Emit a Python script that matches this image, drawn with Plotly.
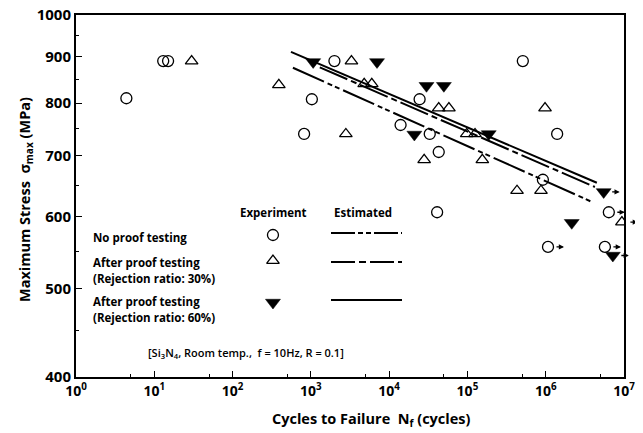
import math
import plotly.graph_objects as go

# ---- Data ----
# No proof testing (open circles)
np_N = [4.4, 13, 15, 820, 1030, 2000, 1.4e4, 2.45e4, 3.3e4, 4.3e4, 4.1e4, 5.1e5, 9.2e5, 1.4e6]
np_S = [810, 890, 890, 740, 808, 890, 757, 808, 740, 707, 607, 890, 659, 740]
# No proof testing, run-outs
np_run_N = [1.07e6, 5.7e6, 6.4e6]
np_run_S = [556, 556, 607]

# After proof testing, rejection 30% (open triangles)
p30_N = [30, 390, 2800, 3300, 4800, 6000, 2.8e4, 4.3e4, 5.8e4, 9.8e4, 1.25e5, 1.55e5, 4.3e5, 8.7e5, 9.8e5]
p30_S = [890, 838, 740, 890, 840, 840, 693, 790, 790, 740, 740, 693, 641, 641, 790]
p30_run_N = [9.4e6]
p30_run_S = [592]

# After proof testing, rejection 60% (filled down triangles)
p60_N = [1070, 7000, 2.1e4, 3.0e4, 5.0e4, 1.87e5, 2.15e6]
p60_S = [888, 888, 739, 836, 836, 740, 591]
p60_run_N = [5.5e6, 7.2e6]
p60_run_S = [639, 544]

# Estimated S-N lines (end points)
est_np_N = [590, 3.9e6]
est_np_S = [875, 623]
est_30_N = [1300, 4.25e6]
est_30_S = [876, 647]
est_60_N = [557, 4.5e6]
est_60_S = [911, 654]

# Legend marker positions (data space)
leg_N = [328, 328, 328]
leg_S = [573, 537, 483]

x_ticks = [1, 10, 100, 1e3, 1e4, 1e5, 1e6, 1e7]
x_ticktext = ["10<sup>0</sup>", "10<sup>1</sup>", "10<sup>2</sup>", "10<sup>3</sup>",
              "10<sup>4</sup>", "10<sup>5</sup>", "10<sup>6</sup>", "10<sup>7</sup>"]
x_minor = [5, 50, 500, 5e3, 5e4, 5e5, 5e6]
y_ticks = [400, 500, 600, 700, 800, 900, 1000]
y_minor = [450, 550, 650, 750, 850, 950]

FONT = "Open Sans"
BLK = "black"

fig = go.Figure()

circle = dict(symbol="circle-open", size=11, color=BLK, line=dict(width=1.3, color=BLK))
tri = dict(symbol="triangle-up-open", size=11, color=BLK, line=dict(width=1.3, color=BLK))
ftri = dict(symbol="triangle-down", size=13, color=BLK, line=dict(width=0.5, color=BLK))

# estimated lines
fig.add_trace(go.Scatter(x=est_np_N, y=est_np_S, mode="lines",
                         line=dict(color=BLK, width=2, dash="34px,4px,5px,3px,5px,4px")))
fig.add_trace(go.Scatter(x=est_30_N, y=est_30_S, mode="lines",
                         line=dict(color=BLK, width=2, dash="30px,4px,6px,4px")))
fig.add_trace(go.Scatter(x=est_60_N, y=est_60_S, mode="lines",
                         line=dict(color=BLK, width=2)))

# experimental points
fig.add_trace(go.Scatter(x=np_N + np_run_N, y=np_S + np_run_S, mode="markers", marker=circle))
fig.add_trace(go.Scatter(x=p30_N + p30_run_N, y=p30_S + p30_run_S, mode="markers", marker=tri))
fig.add_trace(go.Scatter(x=p60_N + p60_run_N, y=p60_S + p60_run_S, mode="markers", marker=ftri))

# legend markers
fig.add_trace(go.Scatter(x=leg_N[:1], y=leg_S[:1], mode="markers", marker=circle))
fig.add_trace(go.Scatter(x=leg_N[1:2], y=leg_S[1:2], mode="markers", marker=tri))
fig.add_trace(go.Scatter(x=leg_N[2:], y=leg_S[2:], mode="markers", marker=ftri))

# run-out arrows (annotations on log axes take log10 positions)
for xs, ys in [(np_run_N, np_run_S), (p30_run_N, p30_run_S), (p60_run_N, p60_run_S)]:
    for xv, yv in zip(xs, ys):
        fig.add_annotation(x=math.log10(xv), y=math.log10(yv), xref="x", yref="y",
                           text="", showarrow=True, axref="pixel", ayref="pixel",
                           ax=-9, ay=0, xshift=16, arrowhead=2, arrowsize=0.8,
                           arrowwidth=1.3, arrowcolor=BLK, standoff=0, startstandoff=0)

# The page body adds an 8px offset; plot area sits at page pixels x 76..624, y 15..377
def px_x(p):
    return (p - 76) / 548.0

def px_y(p):
    return (377 - p) / 362.0

# legend line samples
for yy, dash in [(233, "24px,3px,5px,3px,5px,3px"), (262, "24px,4px,7px,4px"), (300, "solid")]:
    fig.add_shape(type="line", xref="paper", yref="paper",
                  x0=px_x(331), x1=px_x(402), y0=px_y(yy), y1=px_y(yy),
                  line=dict(color=BLK, width=2, dash=dash))

txt = dict(family=FONT, size=11.5, color=BLK, weight=700)
def ann(text, x, y, xanchor="left", font=txt):
    fig.add_annotation(text=text, xref="paper", yref="paper", x=x, y=y, xanchor=xanchor,
                       yanchor="middle", showarrow=False, font=font, borderpad=0)

ann("Experiment", px_x(273), px_y(212), "center")
ann("Estimated", px_x(363), px_y(212), "center")
ann("No proof testing", px_x(92), px_y(237))
ann("After proof testing", px_x(92), px_y(262))
ann("(Rejection ratio: 30%)", px_x(92), px_y(278))
ann("After proof testing", px_x(92), px_y(301))
ann("(Rejection ratio: 60%)", px_x(92), px_y(317))
ann("[Si<sub>3</sub>N<sub>4</sub>, Room temp.,  f = 10Hz, R = 0.1]", px_x(147), px_y(353),
    font=dict(family=FONT, size=11, color=BLK, weight=600))

# axis titles
ann("Cycles to Failure  N<sub>f</sub> (cycles)", px_x(371), px_y(419), "center",
    font=dict(family=FONT, size=14.5, color=BLK, weight=700))
fig.add_annotation(text="Maximum Stress  σ<sub>max</sub> (MPa)", xref="paper", yref="paper",
                   x=px_x(25), y=px_y(200), textangle=-90, showarrow=False,
                   xanchor="center", yanchor="middle",
                   font=dict(family=FONT, size=14.5, color=BLK, weight=700))

fig.update_xaxes(type="log", range=[0, 7], tickvals=x_ticks, ticktext=x_ticktext,
                 ticks="inside", ticklen=6, tickcolor=BLK, showline=True, linecolor=BLK,
                 linewidth=2, mirror=True, showgrid=False, zeroline=False, automargin=False,
                 ticklabeloverflow="allow",
                 tickfont=dict(family=FONT, size=14, color=BLK, weight=700),
                 minor=dict(tickvals=x_minor, ticks="inside", ticklen=3, tickcolor=BLK, showgrid=False))
fig.update_yaxes(type="log", range=[2.60206, 3], tickvals=y_ticks,
                 ticktext=[str(v) for v in y_ticks],
                 ticks="inside", ticklen=6, tickcolor=BLK, showline=True, linecolor=BLK,
                 linewidth=2, mirror=True, showgrid=False, zeroline=False, automargin=False,
                 ticklabeloverflow="allow",
                 tickfont=dict(family=FONT, size=15, color=BLK, weight=700),
                 minor=dict(tickvals=y_minor, ticks="inside", ticklen=3, tickcolor=BLK, showgrid=False))

# margins compensate for the 8px page offset
fig.update_layout(width=643, height=433, showlegend=False,
                  margin=dict(l=68, r=27, t=7, b=64),
                  paper_bgcolor="white", plot_bgcolor="white")

fig.write_html("out.html")
